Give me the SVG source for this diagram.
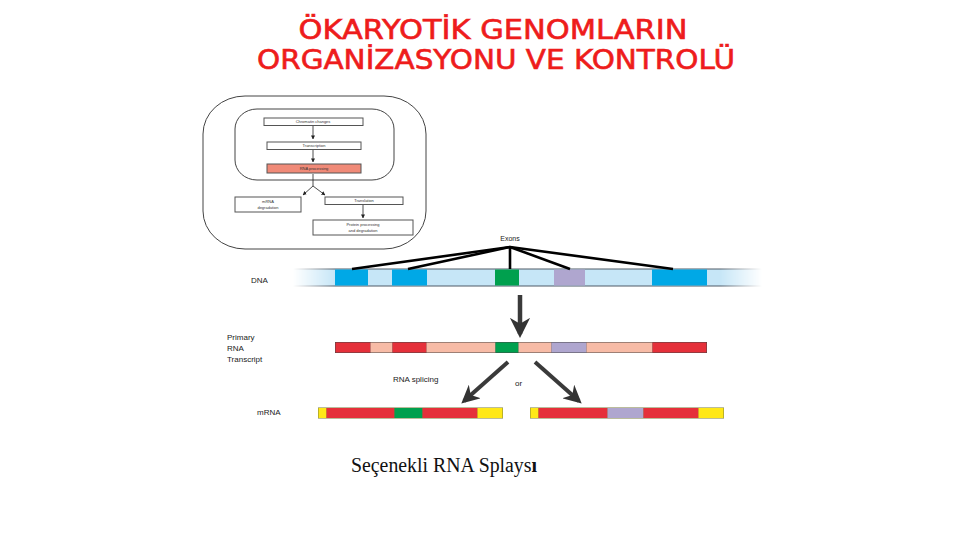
<svg xmlns="http://www.w3.org/2000/svg" width="960" height="540" viewBox="0 0 960 540">
<style>
.title{font-family:"DejaVu Sans","Liberation Sans",sans-serif;font-size:26px;fill:#ee1c1c;stroke:#ee1c1c;stroke-width:0.6}
.tiny{font-family:"Liberation Sans",sans-serif;font-size:4px;fill:#333;text-anchor:middle}
.lbl{font-family:"Liberation Sans","DejaVu Sans",sans-serif;font-size:8px;fill:#222}
.fbox{fill:#fff;stroke:#555;stroke-width:1}
.frame{fill:none;stroke:#444;stroke-width:1}
.ex{stroke:#000;stroke-width:2.6;fill:none}
</style>
<defs>
<marker id="sa" viewBox="0 0 10 10" refX="9" refY="5" markerWidth="4" markerHeight="4" orient="auto" markerUnits="userSpaceOnUse">
<path d="M0,0 L10,5 L0,10 Z" fill="#222"/>
</marker>
<marker id="ba" viewBox="0 0 10 10" refX="8" refY="5" markerWidth="4.5" markerHeight="4.5" orient="auto">
<path d="M0,0 L10,5 L0,10 L3,5 Z" fill="#333"/>
</marker>
<linearGradient id="fade" x1="293" y1="0" x2="762" y2="0" gradientUnits="userSpaceOnUse">
<stop offset="0" stop-color="#fff" stop-opacity="0"/>
<stop offset="0.09" stop-color="#fff" stop-opacity="1"/>
<stop offset="0.91" stop-color="#fff" stop-opacity="1"/>
<stop offset="1" stop-color="#fff" stop-opacity="0"/>
</linearGradient>
<mask id="dnamask" maskUnits="userSpaceOnUse" x="280" y="260" width="500" height="40">
<rect x="280" y="260" width="500" height="40" fill="url(#fade)"/>
</mask>
</defs>

<text class="title" x="493" y="39" text-anchor="middle" textLength="389" lengthAdjust="spacingAndGlyphs">ÖKARYOTİK GENOMLARIN</text>
<text class="title" x="496" y="69" text-anchor="middle" textLength="478" lengthAdjust="spacingAndGlyphs">ORGANİZASYONU VE KONTROLÜ</text>

<g id="flowchart">
<rect class="frame" x="203" y="96" width="223" height="153" rx="42" ry="38"/>
<rect class="frame" x="235" y="109" width="159" height="71" rx="22" ry="20"/>
<g id="n-chromatin"><rect class="fbox" x="264" y="118" width="99" height="7.5"/><text class="tiny" x="313" y="123.3">Chromatin changes</text></g>
<g id="n-transcription"><rect class="fbox" x="267" y="142" width="94" height="7.5"/><text class="tiny" x="314" y="147.3">Transcription</text></g>
<g id="n-rnaproc"><rect x="267" y="164" width="94" height="9" fill="#f08a78" stroke="#555" stroke-width="1"/><text class="tiny" x="314" y="170">RNA processing</text></g>
<g id="n-mrnadeg"><rect class="fbox" x="235" y="197" width="66" height="15"/><text class="tiny" x="268" y="203">mRNA</text><text class="tiny" x="268" y="209">degradation</text></g>
<g id="n-translation"><rect class="fbox" x="325" y="197" width="78" height="7.5"/><text class="tiny" x="364" y="202.3">Translation</text></g>
<g id="n-protein"><rect class="fbox" x="313" y="220" width="100" height="15"/><text class="tiny" x="363" y="226">Protein processing</text><text class="tiny" x="363" y="232">and degradation</text></g>
<g id="flow-connectors" stroke="#222" stroke-width="0.8" fill="none">
<line x1="313" y1="126" x2="313" y2="139" marker-end="url(#sa)"/>
<line x1="313" y1="150" x2="313" y2="162" marker-end="url(#sa)"/>
<path d="M313,174 L313,186 L303,195" marker-end="url(#sa)"/>
<path d="M313,186 L325,195" marker-end="url(#sa)"/>
<line x1="363" y1="205" x2="363" y2="218" marker-end="url(#sa)"/>
</g>
</g>

<g id="dna">
<g mask="url(#dnamask)">
<rect x="293" y="269" width="469" height="17" fill="#c6e6f7"/>
<line x1="293" y1="269" x2="762" y2="269" stroke="#4f5b66" stroke-width="1"/>
<line x1="293" y1="286" x2="762" y2="286" stroke="#4f5b66" stroke-width="1"/>
</g>
<rect x="335" y="269.5" width="33" height="16" fill="#00a8e6"/>
<rect x="392" y="269.5" width="35" height="16" fill="#00a8e6"/>
<rect x="495" y="269.5" width="24" height="16" fill="#00a04e"/>
<rect x="554" y="269.5" width="31" height="16" fill="#afa6cf"/>
<rect x="652" y="269.5" width="55" height="16" fill="#00a8e6"/>
<text class="lbl" x="251" y="283">DNA</text>
</g>
<g id="exons-label">
<text x="510" y="241" text-anchor="middle" font-family="Liberation Sans,sans-serif" font-size="7" fill="#222">Exons</text>
</g>

<g id="primary-rna">
<rect x="335" y="342" width="372" height="11" fill="#444"/>
<rect x="335.5" y="342.5" width="35" height="10" fill="#e5303a"/>
<rect x="370.5" y="342.5" width="22" height="10" fill="#f7bba6"/>
<rect x="392.5" y="342.5" width="34" height="10" fill="#e5303a"/>
<rect x="426.5" y="342.5" width="69" height="10" fill="#f7bba6"/>
<rect x="495.5" y="342.5" width="23" height="10" fill="#00a04e"/>
<rect x="518.5" y="342.5" width="33" height="10" fill="#f7bba6"/>
<rect x="551.5" y="342.5" width="35" height="10" fill="#afa6cf"/>
<rect x="586.5" y="342.5" width="66" height="10" fill="#f7bba6"/>
<rect x="652.5" y="342.5" width="54" height="10" fill="#e5303a"/>
<text class="lbl" x="227" y="340">Primary</text>
<text class="lbl" x="227" y="351">RNA</text>
<text class="lbl" x="227" y="362">Transcript</text>
</g>

<g id="mrna1">
<rect x="318" y="407.5" width="185" height="11" fill="#777a3a"/>
<rect x="318.5" y="408" width="8" height="10" fill="#ffe817"/>
<rect x="326.5" y="408" width="68" height="10" fill="#e5303a"/>
<rect x="394.5" y="408" width="28" height="10" fill="#00a04e"/>
<rect x="422.5" y="408" width="55" height="10" fill="#e5303a"/>
<rect x="477.5" y="408" width="25" height="10" fill="#ffe817"/>
</g>
<g id="mrna2">
<rect x="530" y="407.5" width="194" height="11" fill="#777a3a"/>
<rect x="530.5" y="408" width="8" height="10" fill="#ffe817"/>
<rect x="538.5" y="408" width="69" height="10" fill="#e5303a"/>
<rect x="607.5" y="408" width="36" height="10" fill="#afa6cf"/>
<rect x="643.5" y="408" width="55" height="10" fill="#e5303a"/>
<rect x="698.5" y="408" width="25" height="10" fill="#ffe817"/>
</g>
<text class="lbl" x="257" y="415" font-size="9">mRNA</text>
<text class="lbl" x="393" y="382">RNA splicing</text>
<text class="lbl" x="515" y="386" font-size="10">or</text>

<g id="connectors">
<line class="ex" x1="510" y1="247" x2="352" y2="269"/>
<line class="ex" x1="510" y1="247" x2="408" y2="269"/>
<line class="ex" x1="510" y1="247" x2="510" y2="269"/>
<line class="ex" x1="510" y1="247" x2="570" y2="269"/>
<line class="ex" x1="510" y1="247" x2="673" y2="269"/>
<line x1="520" y1="295" x2="520" y2="334" stroke="#3a3a3a" stroke-width="4.5" marker-end="url(#ba)"/>
<line x1="508" y1="362" x2="464" y2="401" stroke="#3a3a3a" stroke-width="4" marker-end="url(#ba)"/>
<line x1="535" y1="362" x2="579" y2="401" stroke="#3a3a3a" stroke-width="4" marker-end="url(#ba)"/>
</g>

<text x="351" y="472" font-family="Liberation Serif,serif" font-size="20" fill="#111" textLength="186" lengthAdjust="spacingAndGlyphs">Seçenekli RNA Splays<tspan font-weight="bold">ı</tspan></text>
</svg>
